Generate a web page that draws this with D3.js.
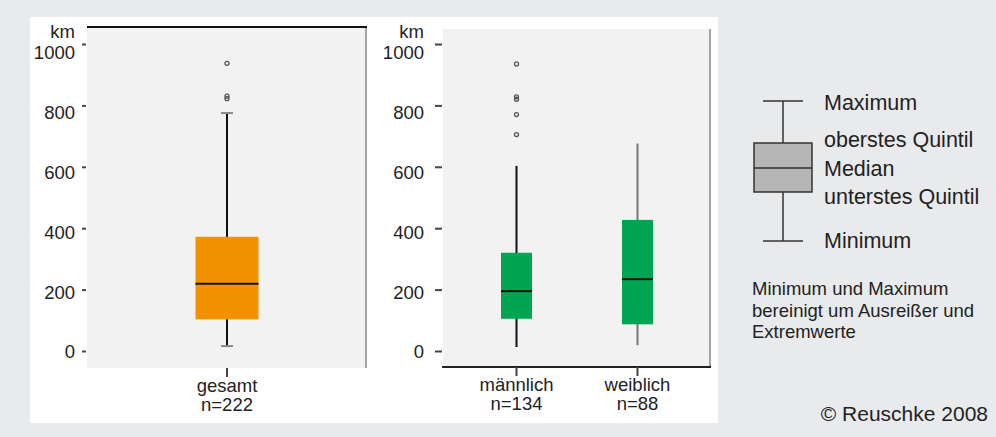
<!DOCTYPE html>
<html>
<head>
<meta charset="utf-8">
<script src="https://cdn.jsdelivr.net/npm/d3@7"></script>
<style>
  body { margin: 0; background: #e9eaec; }
  svg { display: block; font-family: "Liberation Sans", Arial, sans-serif; }
</style>
</head>
<body>
<svg width="996" height="437"></svg>
<script>
// Entfernungen in km, Boxplot-Werte
const groups = ["gesamt", "männlich", "weiblich"];
const nLabels = ["n=222", "n=134", "n=88"];
const minVals = [16, 13, 19];
const q1Vals = [103, 105, 87];
const medVals = [219, 195, 234];
const q3Vals = [372, 320, 427];
const maxVals = [775, 603, 676];
const outliers = [[937, 830, 822], [935, 828, 820, 770, 705], []];
const yTicks = [0, 200, 400, 600, 800, 1000];
const boxColors = ["#f39200", "#00a551", "#00a551"];

const legendLabels = ["Maximum", "oberstes Quintil", "Median", "unterstes Quintil", "Minimum"];
const noteLines = ["Minimum und Maximum", "bereinigt um Ausreißer und", "Extremwerte"];

const svg = d3.select("svg");

// outer white panel
svg.append("rect").attr("x", 0).attr("y", 0).attr("width", 996).attr("height", 437).attr("fill", "#e9eaec");
svg.append("rect").attr("x", 30).attr("y", 17).attr("width", 688).attr("height", 406).attr("fill", "#fff");

const y = d3.scaleLinear().domain([0, 1000]).range([351, 44]);
// the tick labels in the original sit slightly off the tick marks
const yLab = d3.scaleLinear().domain([0, 1000]).range([352, 53]);

const data = groups.map((g, i) => ({
  group: g, n: nLabels[i], min: minVals[i], q1: q1Vals[i], med: medVals[i],
  q3: q3Vals[i], max: maxVals[i], out: outliers[i], color: boxColors[i]
}));

const panels = [
  {left: 87, right: 367, top: 27, bottom: 368, items: data.slice(0, 1), boxW: 63,
   topLine: true, bottomLine: false, tick: 4, pad: 12},
  {left: 443, right: 711, top: 29, bottom: 367, items: data.slice(1), boxW: 31,
   topLine: false, bottomLine: true, tick: 7, pad: 19}
];

panels.forEach(function(p) {
  const g = svg.append("g");
  const x = d3.scaleBand()
    .domain(p.items.map(d => d.group))
    .range(p.items.length === 1 ? [p.left, p.right] : [p.left + 13, p.right - 13]);

  g.append("rect")
    .attr("x", p.left).attr("y", p.top)
    .attr("width", p.right - p.left).attr("height", p.bottom - p.top)
    .attr("fill", "#f2f2f2");

  g.append("line")
    .attr("x1", p.right - 1).attr("x2", p.right - 1)
    .attr("y1", p.top).attr("y2", p.bottom)
    .attr("stroke", "#8a8a8a").attr("stroke-width", 1.5);

  if (p.topLine) {
    g.append("line")
      .attr("x1", p.left).attr("x2", p.right)
      .attr("y1", p.top).attr("y2", p.top)
      .attr("stroke", "#111").attr("stroke-width", 2);
  }
  if (p.bottomLine) {
    g.append("line")
      .attr("x1", p.left - 1).attr("x2", p.right)
      .attr("y1", p.bottom).attr("y2", p.bottom)
      .attr("stroke", "#222").attr("stroke-width", 2);
  }

  // y axis: tick marks
  const yAxis = g.append("g")
    .attr("transform", "translate(" + (p.left - 1) + ",0)")
    .call(d3.axisLeft(y).tickValues(yTicks).tickSize(p.tick).tickFormat(""));
  yAxis.select(".domain").remove();
  yAxis.selectAll(".tick line").attr("stroke", "#444").attr("stroke-width", 2);

  // y axis: labels
  g.selectAll("text.ylab")
    .data(yTicks)
    .enter().append("text")
    .attr("class", "ylab")
    .attr("x", p.left - p.pad).attr("y", d => yLab(d))
    .attr("dy", "0.35em")
    .attr("text-anchor", "end").attr("fill", "#222")
    .style("font-size", "18.5px")
    .text(d3.format("d"));

  g.append("text")
    .attr("x", p.left - p.pad).attr("y", 38)
    .attr("text-anchor", "end").attr("fill", "#222")
    .style("font-size", "18.5px").text("km");

  // category ticks and labels
  p.items.forEach(function(d) {
    const cx = x(d.group) + x.bandwidth() / 2;
    g.append("line")
      .attr("x1", cx).attr("x2", cx)
      .attr("y1", p.bottom).attr("y2", p.bottom + 9)
      .attr("stroke", "#444").attr("stroke-width", 2);
    g.append("text")
      .attr("x", cx).attr("y", p.bottom + 24)
      .attr("text-anchor", "middle").attr("fill", "#222")
      .style("font-size", "18.5px").text(d.group);
    g.append("text")
      .attr("x", cx).attr("y", p.bottom + 43)
      .attr("text-anchor", "middle").attr("fill", "#222")
      .style("font-size", "18.5px").text(d.n);

    // whisker
    g.append("line")
      .attr("x1", cx).attr("x2", cx)
      .attr("y1", y(d.max)).attr("y2", y(d.min))
      .attr("stroke", d.group === "weiblich" ? "#777" : "#111").attr("stroke-width", 2);
    if (p.items.length === 1) {
      [d.max, d.min].forEach(function(v) {
        g.append("line")
          .attr("x1", cx - 6).attr("x2", cx + 6)
          .attr("y1", y(v)).attr("y2", y(v))
          .attr("stroke", "#888").attr("stroke-width", 2);
      });
    }

    // box
    g.append("rect")
      .attr("x", cx - p.boxW / 2).attr("y", y(d.q3))
      .attr("width", p.boxW).attr("height", y(d.q1) - y(d.q3))
      .attr("fill", d.color);
    g.append("line")
      .attr("x1", cx - p.boxW / 2).attr("x2", cx + p.boxW / 2)
      .attr("y1", y(d.med)).attr("y2", y(d.med))
      .attr("stroke", "#111").attr("stroke-width", 2);

    // outliers
    g.selectAll(null)
      .data(d.out)
      .enter().append("circle")
      .attr("cx", cx).attr("cy", v => y(v))
      .attr("r", 2)
      .attr("fill", "none").attr("stroke", "#555").attr("stroke-width", 1.3);
  });
});

// legend (schematic box)
const lg = svg.append("g");
const ly = d3.scaleLinear().domain([0, 4]).range([101, 241]);
const lcx = 783;
lg.append("line").attr("x1", lcx).attr("x2", lcx).attr("y1", ly(0)).attr("y2", ly(4))
  .attr("stroke", "#333").attr("stroke-width", 1.5);
[0, 4].forEach(function(i) {
  lg.append("line").attr("x1", lcx - 20).attr("x2", lcx + 20)
    .attr("y1", ly(i)).attr("y2", ly(i))
    .attr("stroke", "#333").attr("stroke-width", 1.5);
});
lg.append("rect").attr("x", lcx - 29).attr("y", 143).attr("width", 58).attr("height", 49)
  .attr("fill", "#b5b5b5").attr("stroke", "#333").attr("stroke-width", 1.5);
lg.append("line").attr("x1", lcx - 29).attr("x2", lcx + 29).attr("y1", 168).attr("y2", 168)
  .attr("stroke", "#333").attr("stroke-width", 1.5);

const legendY = [110, 147, 176, 204, 248];
lg.selectAll("text.leg")
  .data(legendLabels)
  .enter().append("text")
  .attr("class", "leg")
  .attr("x", 824).attr("y", (d, i) => legendY[i])
  .attr("fill", "#222").style("font-size", "21.5px")
  .text(d => d);

lg.selectAll("text.note")
  .data(noteLines)
  .enter().append("text")
  .attr("class", "note")
  .attr("x", 752).attr("y", (d, i) => 295 + i * 21.5)
  .attr("fill", "#222").style("font-size", "18.5px")
  .text(d => d);

svg.append("text")
  .attr("x", 988).attr("y", 421)
  .attr("text-anchor", "end").attr("fill", "#222")
  .style("font-size", "21px")
  .text("© Reuschke 2008");
</script>
</body>
</html>
